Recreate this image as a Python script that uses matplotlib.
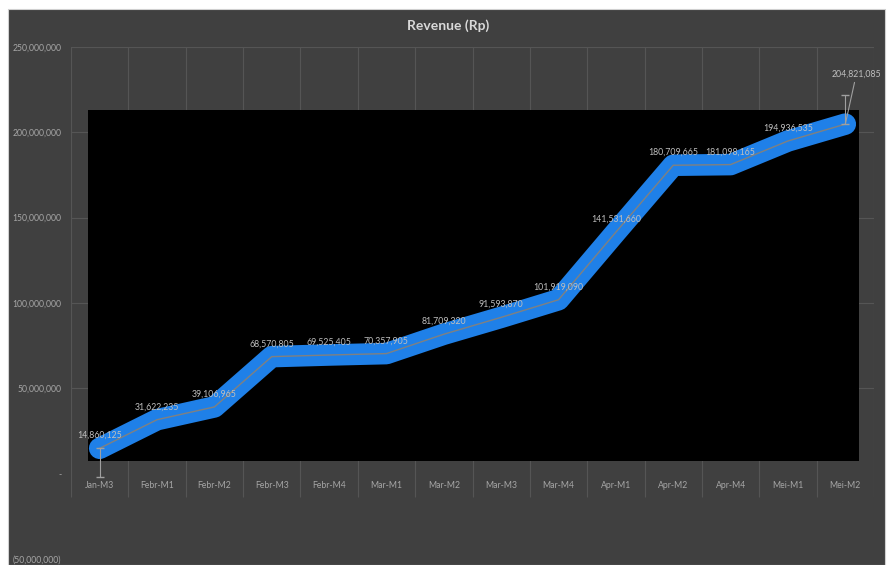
import numpy as np
import matplotlib.pyplot as plt
from matplotlib.patches import Rectangle
from matplotlib.ticker import FuncFormatter

periods = ['Jan-M3', 'Febr-M1', 'Febr-M2', 'Febr-M3', 'Febr-M4', 'Mar-M1', 'Mar-M2',
           'Mar-M3', 'Mar-M4', 'Apr-M1', 'Apr-M2', 'Apr-M4', 'Mei-M1', 'Mei-M2']
revenue = [14860125, 31622235, 39106965, 68570805, 69525405, 70357905, 81709320,
           91593870, 101919090, 141531660, 180709665, 181098165, 194936535, 204821085]
y_ticks = [-50000000, 0, 50000000, 100000000, 150000000, 200000000, 250000000]

plt.rcParams['font.family'] = ['Lato', 'DejaVu Sans']
bg = '#404040'
txt = '#a6a6a6'
grid = '#555555'

fig = plt.figure(figsize=(8.93, 5.65), dpi=100, facecolor='white')
fig.add_artist(Rectangle((8 / 893, 0), 877 / 893, 556 / 565, transform=fig.transFigure,
                         facecolor=bg, edgecolor='#d0d0d0', lw=0.8, zorder=-10))
ax = fig.add_axes([71 / 893, 6 / 565, 803 / 893, 512 / 565])
ax.set_facecolor(bg)
for s in ax.spines.values():
    s.set_visible(False)

x = np.arange(len(periods))
ax.set_xlim(-0.5, len(periods) - 0.5)
ax.set_ylim(y_ticks[0], y_ticks[-1])

# gridlines
for yt in y_ticks[2:]:
    ax.axhline(yt, xmin=0, xmax=1, color=grid, lw=0.8, zorder=1)
ax.vlines(np.arange(len(periods) + 1) - 0.5, -13500000, y_ticks[-1], color=grid, lw=0.8, zorder=1)

# black plot box
ax.add_patch(Rectangle((-0.21, 7600000), 13.44, 205500000, facecolor='black', edgecolor='none', zorder=2))

# the line
ax.plot(x, revenue, color='#1f80e8', lw=15.5, solid_capstyle='round', solid_joinstyle='round', zorder=3)
ax.plot(x, revenue, color='#808080', lw=1, zorder=4)

# end markers like error bars
ax.errorbar([x[0]], [revenue[0]], yerr=[[17000000], [0]], fmt='none', ecolor='#a0a0a0',
            elinewidth=0.8, capsize=3, zorder=5)
ax.errorbar([x[-1]], [revenue[-1]], yerr=[[0], [17000000]], fmt='none', ecolor='#a0a0a0',
            elinewidth=0.8, capsize=3, zorder=5)

for i, v in enumerate(revenue):
    if i == len(revenue) - 1:
        ax.annotate(f'{v:,}', (x[i], v), xytext=(8, 33), textcoords='offset points',
                    ha='center', va='bottom', fontsize=6.3, color='#bfbfbf', zorder=6,
                    arrowprops=dict(arrowstyle='-', color='#a0a0a0', lw=0.8, shrinkA=1, shrinkB=0))
    else:
        ax.annotate(f'{v:,}', (x[i], v), xytext=(0, 6), textcoords='offset points',
                    ha='center', va='bottom', fontsize=6.3, color='#bfbfbf', zorder=6)

def fmt(v, pos):
    if v == 0:
        return '-'
    if v < 0:
        return f'({-v:,.0f})'
    return f'{v:,.0f}'

ax.yaxis.set_major_formatter(FuncFormatter(fmt))
ax.set_yticks(y_ticks)
ax.set_xticks(x)
ax.set_xticklabels(periods)
ax.tick_params(axis='both', length=0, colors=txt, labelsize=6.2)
ax.tick_params(axis='y', pad=7)
ax.tick_params(axis='x', pad=-56)

fig.text(448 / 893, 1 - 26 / 565, 'Revenue (Rp)', ha='center', va='center', fontsize=10,
         fontweight='bold', color='#d9d9d9')

fig.savefig('out.png', dpi=100, facecolor=fig.get_facecolor())
